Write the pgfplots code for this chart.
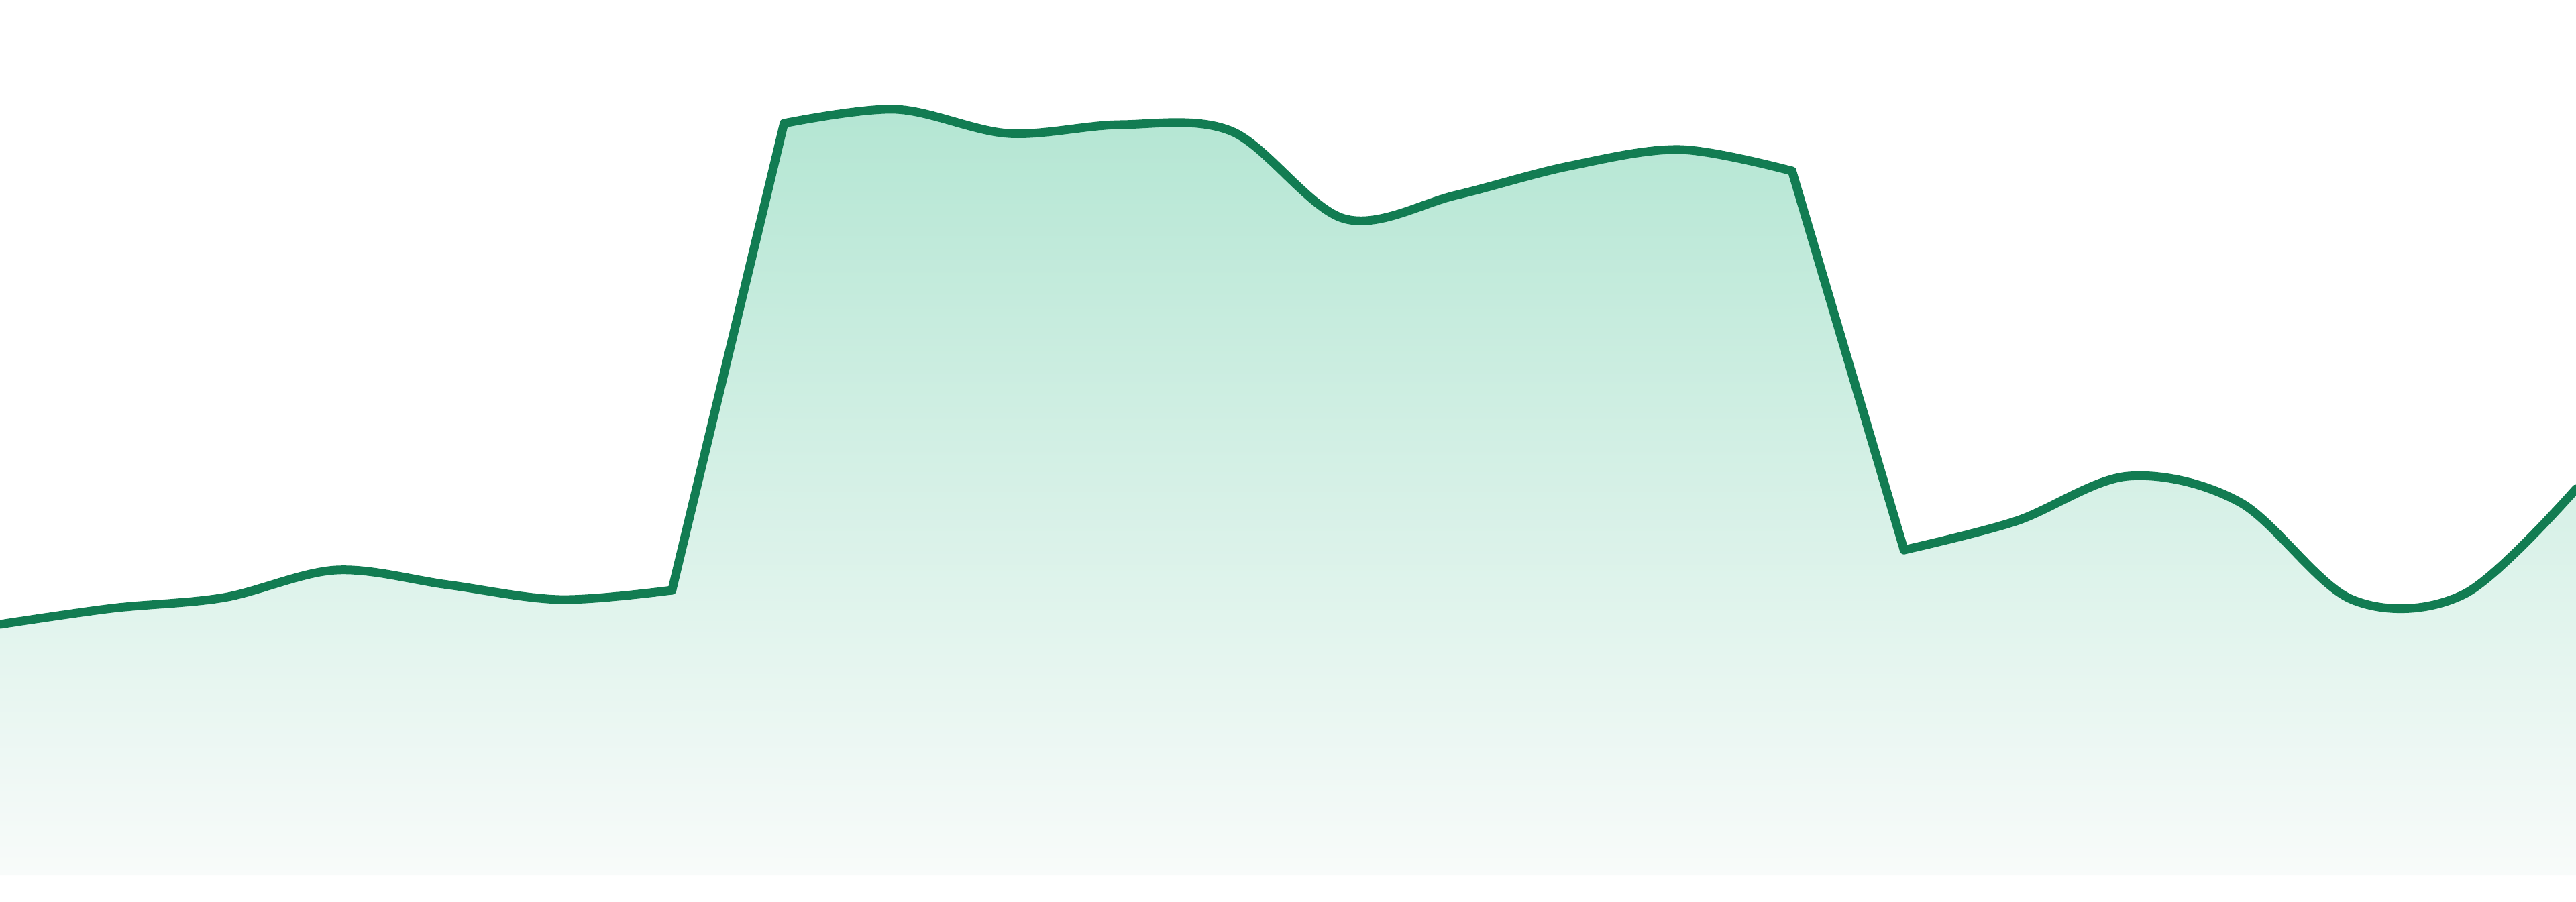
\documentclass[border=0pt]{standalone}
\usepackage{pgfplots}
\usepackage{pgfplotstable}
\pgfplotsset{compat=1.18}
\definecolor{linegreen}{RGB}{18,124,82}
\definecolor{filltop}{RGB}{180,230,211}
\definecolor{fillbot}{RGB}{248,251,250}
\pgfplotstableread{
x y
0 374
1 398
2 414
3 455
4 433
5 411
6 425
7 1121
8 1142
9 1106
10 1119
11 1109
12 979
13 1014
14 1057
15 1082
16 1050
17 485
18 528
19 595
20 556
21 411
22 419
23 576
}\series
\begin{document}
\begin{tikzpicture}
\begin{axis}[scale only axis, width=384pt, height=130.5pt,
  xmin=0, xmax=23, ymin=0, ymax=1305, hide axis, clip=true,
  every axis plot/.append style={smooth, tension=0.55}]
% area under the curve, one piece per run of the line, shaded on a common scale
\addplot[draw=none, top color=filltop!40!fillbot, bottom color=fillbot, restrict x to domain=0:6] table[x=x,y=y] {\series} \closedcycle;
\addplot[draw=none, top color=filltop!97.8!fillbot, bottom color=fillbot, restrict x to domain=6:7] table[x=x,y=y] {\series} \closedcycle;
\addplot[draw=none, top color=filltop, bottom color=fillbot, restrict x to domain=7:16] table[x=x,y=y] {\series} \closedcycle;
\addplot[draw=none, top color=filltop!91.6!fillbot, bottom color=fillbot, restrict x to domain=16:17] table[x=x,y=y] {\series} \closedcycle;
\addplot[draw=none, top color=filltop!52.4!fillbot, bottom color=fillbot, restrict x to domain=17:23] table[x=x,y=y] {\series} \closedcycle;
% the line
\addplot[linegreen, line width=1.3pt, line cap=round, line join=round, restrict x to domain=0:6] table[x=x,y=y] {\series};
\addplot[linegreen, line width=1.3pt, line cap=round, line join=round, restrict x to domain=6:7] table[x=x,y=y] {\series};
\addplot[linegreen, line width=1.3pt, line cap=round, line join=round, restrict x to domain=7:16] table[x=x,y=y] {\series};
\addplot[linegreen, line width=1.3pt, line cap=round, line join=round, restrict x to domain=16:17] table[x=x,y=y] {\series};
\addplot[linegreen, line width=1.3pt, line cap=round, line join=round, restrict x to domain=17:23] table[x=x,y=y] {\series};
\end{axis}
\pgfresetboundingbox
\path (current axis.south west) ++(0,-3.9pt) rectangle (current axis.north east);
\end{tikzpicture}
\end{document}
